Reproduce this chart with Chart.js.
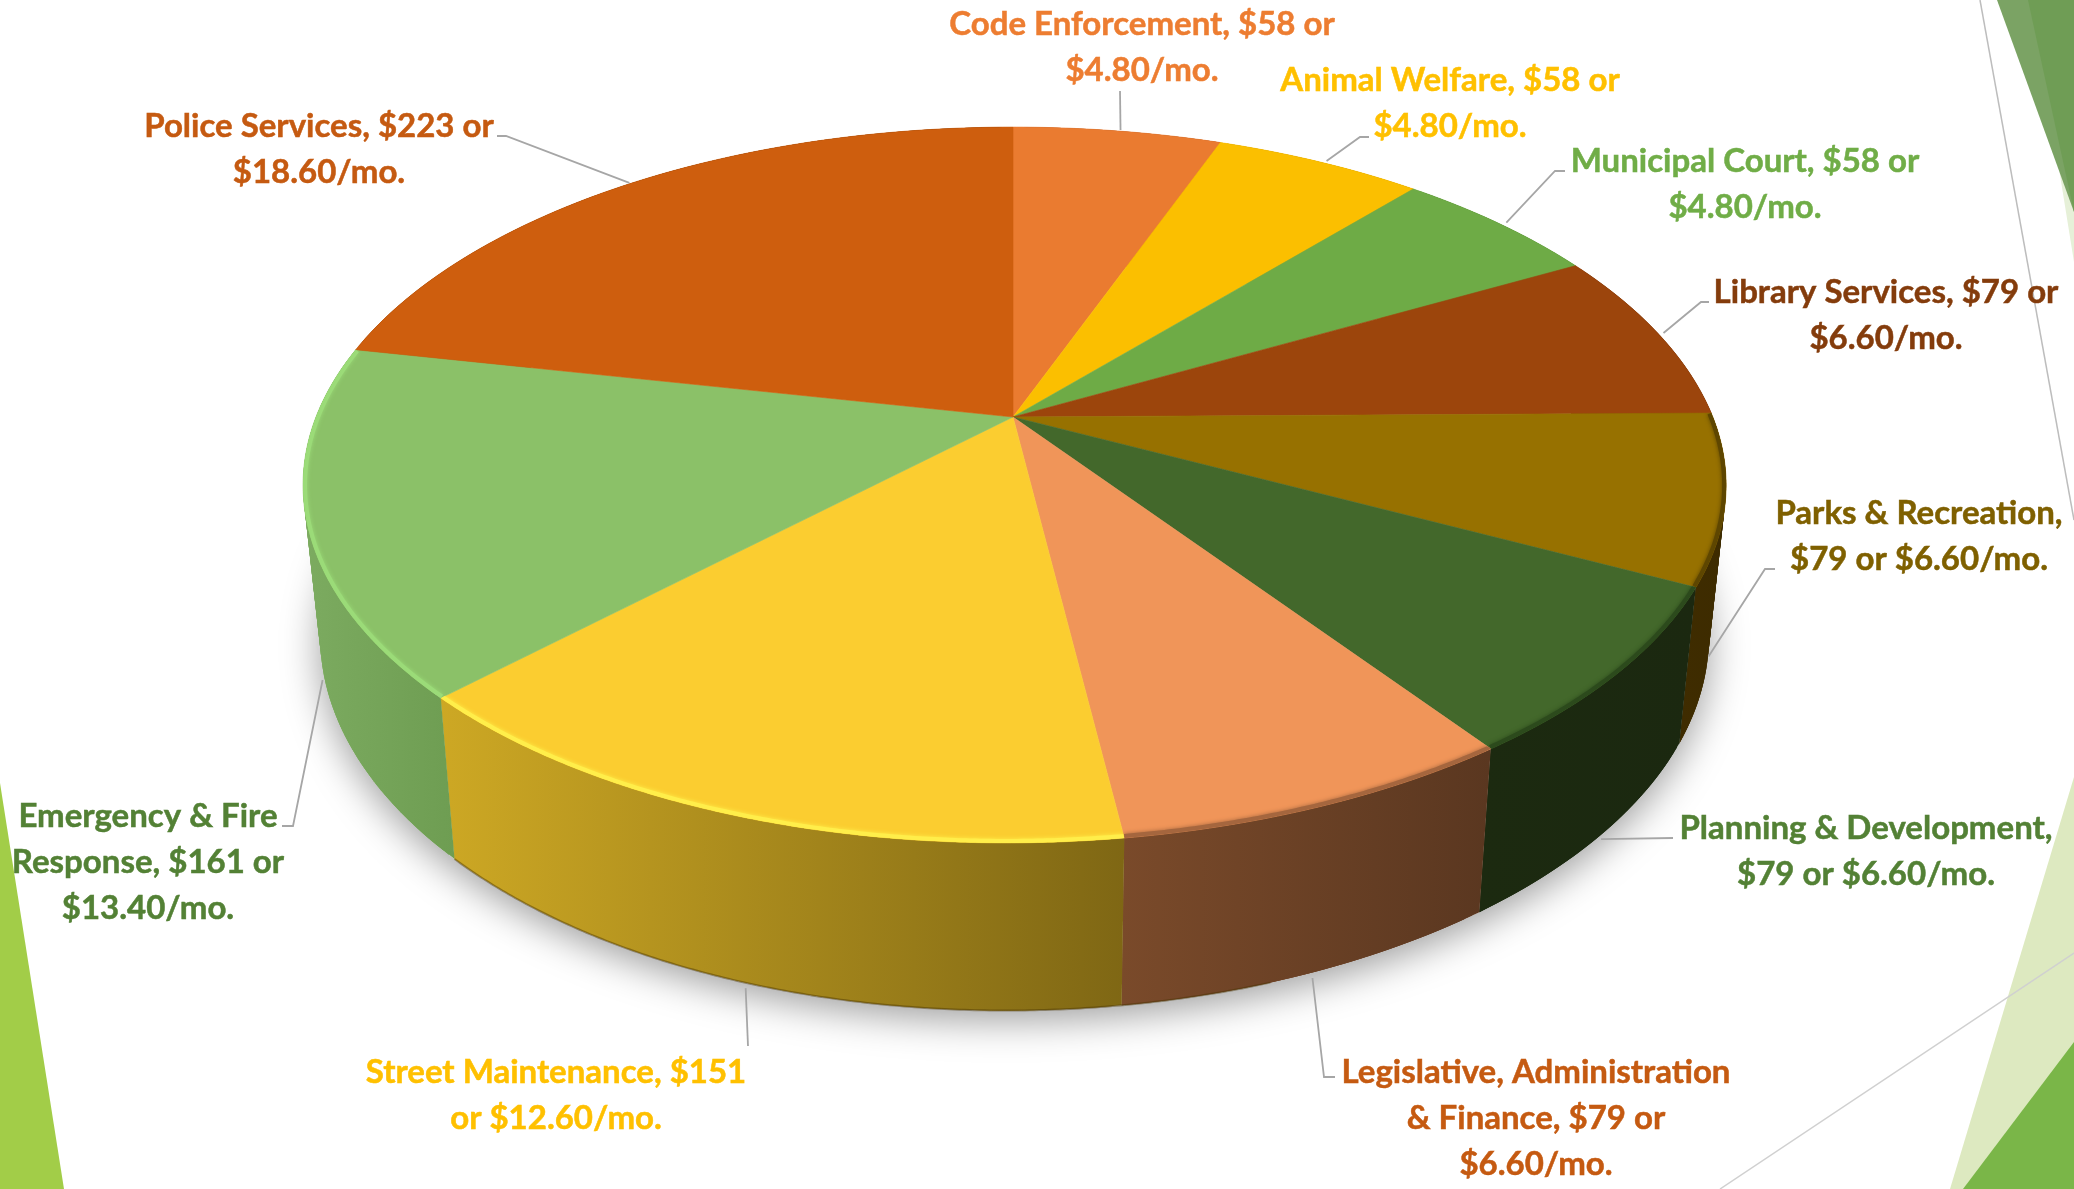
<!DOCTYPE html>
<html>
<head>
<meta charset="utf-8">
<title>Budget pie</title>
<style>
  html, body { margin: 0; padding: 0; background: #fff; overflow: hidden; }
  canvas { display: block; }
</style>
<script src="https://cdn.jsdelivr.net/npm/chart.js@4"></script>
</head>
<body>
<canvas id="pie" width="2074" height="1189"></canvas>
<script>
var categories = ["Code Enforcement", "Animal Welfare", "Municipal Court", "Library Services", "Parks & Recreation",
  "Planning & Development", "Legislative, Administration & Finance", "Street Maintenance", "Emergency & Fire Response", "Police Services"];
var values = [58, 58, 58, 79, 79, 79, 79, 151, 161, 223];
var labelLines = [
  ["Code Enforcement, $58 or", "$4.80/mo."],
  ["Animal Welfare, $58 or", "$4.80/mo."],
  ["Municipal Court, $58 or", "$4.80/mo."],
  ["Library Services, $79 or", "$6.60/mo."],
  ["Parks & Recreation,", "$79 or $6.60/mo."],
  ["Planning & Development,", "$79 or $6.60/mo."],
  ["Legislative, Administration", "& Finance, $79 or", "$6.60/mo."],
  ["Street Maintenance, $151", "or $12.60/mo."],
  ["Emergency & Fire", "Response, $161 or", "$13.40/mo."],
  ["Police Services, $223 or", "$18.60/mo."]
];

// styles
var topColors = ["#EA7B30", "#FBBF00", "#6EAB46", "#9C450C", "#977100", "#43682B", "#F09559", "#FBCD30", "#8BC168", "#CE5E0E"];
var textColors = ["#ED7D31", "#FFC000", "#70AD47", "#843C0C", "#7F6000", "#538135", "#C55A11", "#FFC000", "#538135", "#C55A11"];
var wallColors = [
  ["#B86028", "#B86028"], ["#C49500", "#C49500"], ["#558636", "#558636"], ["#5C2A08", "#5C2A08"],
  ["#3F2C00", "#3D2B00"], ["#1C2A10", "#1B2810"], ["#7A4A2A", "#5A3720"], ["#CDA824", "#7F6714"],
  ["#7CAB60", "#6E9D52"], ["#7A3A08", "#7A3A08"]
];
var rimColors = [null, null, null, null, "#5E4600", "#2C4A1C", "#A5663E", "#FFEE4A", "#9BDB78", null];

// label layout: centre x, y of first line, leader start nudge, then leader elbow points
var lineGap = 46.4;
var labelPos = [[1142, 24], [1450, 80], [1745, 161], [1886, 292], [1919, 513], [1866, 828], [1536, 1072], [556, 1072], [148, 816], [319, 126]];
var leaderNudge = [3, 7, 7, 5, 0, -2, -2, 3, -1, 0];
var leaderEnds = [
  [[1120, 91]],
  [[1360, 137], [1369, 137]],
  [[1555, 171], [1565, 171]],
  [[1701, 302], [1709, 302]],
  [[1765, 569], [1775, 569]],
  [[1673, 838]],
  [[1324, 1077], [1335, 1077]],
  [[748, 1046]],
  [[293, 826], [282, 826]],
  [[506, 136], [497, 136]]
];
var leaderOnWall = [false, false, false, false, true, true, true, true, true, false];

// perspective of the disc: top face and lower face
var cx = 1013, cy = 417, ra = 697, rb = 345, tilt = 0.19;
var lowCy = 565, lowSx = 0.976, lowSy = 1.046;

function topPoint(angle) {
  var u = Math.cos(angle), v = Math.sin(angle), w = 1 - tilt * v;
  var lean = v > 0 ? 7 * Math.pow(v, 4) : 0;
  var bulgeX = u > 0 ? 4 * u * (1 - Math.max(v, 0)) : 0;
  var bulgeY = u > 0 ? 3 * u * (1 - Math.abs(v)) : 0;
  return [cx + ra * u / w - lean + bulgeX, cy + rb * v / w + bulgeY];
}
function lowPoint(angle) {
  var p = topPoint(angle);
  return [cx + (p[0] - cx) * lowSx, lowCy + (p[1] - cy) * lowSy];
}
function arcPoints(fn, a0, a1) {
  var pts = [], steps = Math.max(2, Math.ceil((a1 - a0) / 0.006));
  for (var i = 0; i <= steps; i++) pts.push(fn(a0 + (a1 - a0) * i / steps));
  return pts;
}
function tracePoints(ctx, pts, keepGoing) {
  pts.forEach(function (p, i) {
    if (i === 0 && !keepGoing) ctx.moveTo(p[0], p[1]);
    else ctx.lineTo(p[0], p[1]);
  });
}

function drawBackdrop(ctx) {
  function poly(color, pts) {
    ctx.fillStyle = color;
    ctx.beginPath();
    tracePoints(ctx, pts);
    ctx.closePath();
    ctx.fill();
  }
  poly("#A2CD48", [[0, 783], [64, 1189], [0, 1189]]);
  poly("#E6F0D8", [[2056, 150], [2074, 212], [2074, 262]]);
  poly("#7BA364", [[1997, 0], [2074, 0], [2074, 212]]);
  poly("#6F9D55", [[2028, 0], [2074, 0], [2074, 212]]);
  poly("#DDE9C0", [[2074, 777], [2074, 1189], [1950, 1189]]);
  poly("#7AB648", [[2074, 1042], [2074, 1189], [1963, 1189]]);
  ctx.lineWidth = 1.5;
  ctx.strokeStyle = "#BDBDBD";
  ctx.beginPath();
  ctx.moveTo(1980, 0);
  ctx.lineTo(2074, 520);
  ctx.stroke();
  ctx.strokeStyle = "#D0D0D0";
  ctx.beginPath();
  ctx.moveTo(1720, 1189);
  ctx.lineTo(2074, 953);
  ctx.stroke();
}

function drawDisc(chart) {
  var ctx = chart.ctx, arcs = chart.getDatasetMeta(0).data;
  var first = arcs[0].startAngle, last = first + Math.PI * 2;

  // soft shadow under the disc
  ctx.save();
  ctx.shadowColor = "rgba(0,0,0,0.38)";
  ctx.shadowBlur = 38;
  ctx.shadowOffsetY = 10;
  ctx.fillStyle = "#fff";
  ctx.beginPath();
  tracePoints(ctx, arcPoints(lowPoint, first, last));
  ctx.closePath();
  ctx.fill();
  ctx.restore();

  // walls, overlapping quads so the silhouette stays a straight tangent with no seams
  arcs.forEach(function (arc, i) {
    var t = arcPoints(topPoint, arc.startAngle, arc.endAngle);
    var b = arcPoints(lowPoint, arc.startAngle, arc.endAngle);
    var xs = t.concat(b).map(function (p) { return p[0]; });
    var g = ctx.createLinearGradient(Math.min.apply(null, xs), 0, Math.max.apply(null, xs), 0);
    g.addColorStop(0, wallColors[i][0]);
    g.addColorStop(1, wallColors[i][1]);
    ctx.fillStyle = g;
    for (var n = 0; n < t.length - 1; n += 2) {
      var m = Math.min(n + 6, t.length - 1);
      ctx.beginPath();
      tracePoints(ctx, [t[n], t[m], b[m], b[n]]);
      ctx.closePath();
      ctx.fill();
    }
  });
  ctx.strokeStyle = "rgba(70,50,0,0.45)";
  ctx.lineWidth = 2;
  ctx.beginPath();
  tracePoints(ctx, arcPoints(lowPoint, arcs[6].startAngle + 0.3, arcs[7].endAngle));
  ctx.stroke();

  // top face
  arcs.forEach(function (arc, i) {
    ctx.fillStyle = topColors[i];
    ctx.strokeStyle = topColors[i];
    ctx.lineWidth = 0.6;
    ctx.beginPath();
    ctx.moveTo(cx, cy);
    tracePoints(ctx, arcPoints(topPoint, arc.startAngle, arc.endAngle), true);
    ctx.closePath();
    ctx.fill();
    ctx.stroke();
  });

  // bevel along the front rim
  arcs.forEach(function (arc, i) {
    if (!rimColors[i]) return;
    ctx.save();
    ctx.beginPath();
    ctx.moveTo(cx, cy);
    tracePoints(ctx, arcPoints(topPoint, arc.startAngle, arc.endAngle), true);
    ctx.closePath();
    ctx.clip();
    ctx.strokeStyle = rimColors[i];
    ctx.shadowColor = rimColors[i];
    ctx.shadowBlur = 4;
    ctx.lineWidth = 8;
    ctx.beginPath();
    tracePoints(ctx, arcPoints(topPoint, arc.startAngle, arc.endAngle));
    ctx.stroke();
    ctx.restore();
  });
}

function drawLabels(chart) {
  var ctx = chart.ctx, arcs = chart.getDatasetMeta(0).data;
  arcs.forEach(function (arc, i) {
    var mid = (arc.startAngle + arc.endAngle) / 2;
    var start = leaderOnWall[i] ? lowPoint(mid) : topPoint(mid);
    ctx.strokeStyle = "#A6A6A6";
    ctx.lineWidth = 1.8;
    ctx.beginPath();
    ctx.moveTo(start[0] + leaderNudge[i], start[1] + (leaderOnWall[i] ? 6 : -1));
    tracePoints(ctx, leaderEnds[i], true);
    ctx.stroke();

    ctx.fillStyle = textColors[i];
    ctx.strokeStyle = textColors[i];
    ctx.lineWidth = 0.5;
    ctx.font = "700 33px Lato";
    ctx.textAlign = "center";
    ctx.textBaseline = "middle";
    labelLines[i].forEach(function (line, n) {
      ctx.fillText(line, labelPos[i][0], labelPos[i][1] + n * lineGap);
      ctx.strokeText(line, labelPos[i][0], labelPos[i][1] + n * lineGap);
    });
  });
}

var pie3d = {
  id: "pie3d",
  beforeDraw: function (chart) { drawBackdrop(chart.ctx); },
  beforeDatasetDraw: function (chart) {
    drawDisc(chart);
    return false;
  },
  afterDraw: drawLabels
};

new Chart(document.getElementById("pie"), {
  type: "pie",
  data: {
    labels: categories,
    datasets: [{ data: values, backgroundColor: topColors, borderWidth: 0 }]
  },
  options: {
    responsive: false,
    animation: false,
    plugins: { legend: { display: false }, tooltip: { enabled: false } }
  },
  plugins: [pie3d]
});
</script>
</body>
</html>
